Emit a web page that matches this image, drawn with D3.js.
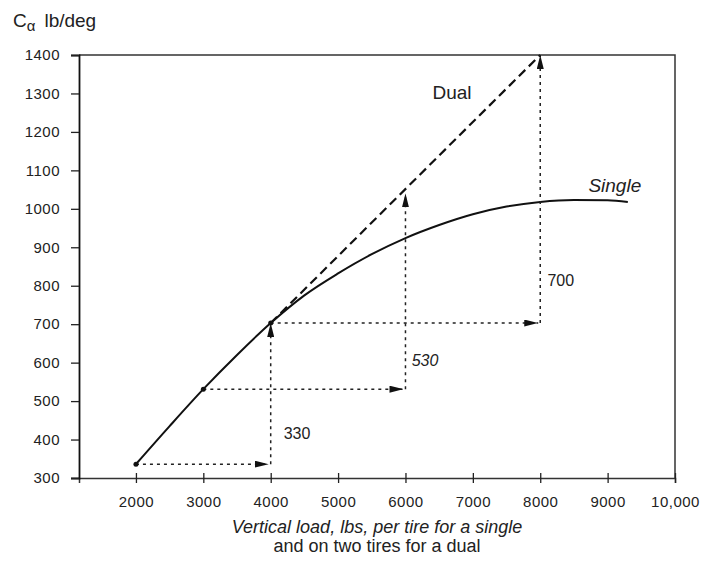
<!DOCTYPE html>
<html>
<head>
<meta charset="utf-8">
<script src="https://cdn.jsdelivr.net/npm/d3@7"></script>
<style>
  body { margin: 0; background: #fff; }
  svg { font-family: "Liberation Sans", Arial, sans-serif; }
  .tick text { font-size: 15px; letter-spacing: 0.5px; fill: #222; }
</style>
</head>
<body>
<svg width="701" height="562"></svg>
<script>
// single tire curve
const singleLoad = [2000, 2500, 3000, 3500, 4000, 4500, 5000, 5500, 6000, 6500, 7000, 7500, 8000, 8500, 9000, 9300]
const singleCa = [336, 435, 531, 620, 703, 775, 832, 882, 924, 958, 986, 1006, 1018, 1023, 1022, 1018]

// dual line (load on two tires)
const dualLoad = [4000, 8000]
const dualCa = [703, 1400]

// the step arrows: horizontal then vertical
const stepFromLoad = [2000, 3000, 4000]
const stepToLoad = [4000, 6000, 8000]
const stepFromCa = [336, 531, 703]
const stepToCa = [703, 1040, 1400]
const stepLabels = ['330', '530', '700']
const stepLabelLoad = [4390, 6290, 8305]
const stepLabelCa = [417, 607, 815]

const xTicks = [2000, 3000, 4000, 5000, 6000, 7000, 8000, 9000, 10000]
const yTicks = [300, 400, 500, 600, 700, 800, 900, 1000, 1100, 1200, 1300, 1400]

const svg = d3.select('svg')

const x = d3.scaleLinear().domain([1155, 10000]).range([79, 675])
const y = d3.scaleLinear().domain([300, 1400]).range([478, 55])

// arrowhead
svg.append('defs').append('marker')
  .attr('id', 'head')
  .attr('viewBox', '0 0 14 7')
  .attr('refX', 14).attr('refY', 3.5)
  .attr('markerWidth', 14).attr('markerHeight', 7)
  .attr('markerUnits', 'userSpaceOnUse')
  .attr('orient', 'auto')
  .append('path')
  .attr('d', 'M0,0 L14,3.5 L0,7 Z')
  .attr('fill', '#111')

// frame top and right
svg.append('path')
  .attr('d', `M${x(1155)},${y(1400)} H${x(10000)} V${y(300)}`)
  .attr('fill', 'none').attr('stroke', '#333').attr('stroke-width', 1.5)

const fmtX = d => d === 10000 ? '10,000' : String(d)

const xAxis = svg.append('g')
  .attr('transform', `translate(0,${y(300)})`)
  .call(d3.axisBottom(x).tickValues(xTicks).tickFormat(fmtX).tickSize(5).tickPadding(13))
xAxis.select('.domain').attr('stroke', '#333').attr('stroke-width', 1.5)
xAxis.selectAll('.tick line').attr('y1', -5).attr('stroke', '#222').attr('stroke-width', 1.3)

const yAxis = svg.append('g')
  .attr('transform', `translate(${x(1155)},0)`)
  .call(d3.axisLeft(y).tickValues(yTicks).tickFormat(d3.format('d')).tickSize(8).tickPadding(11))
yAxis.select('.domain').attr('stroke', '#111').attr('stroke-width', 1.8)
yAxis.selectAll('.tick line').attr('stroke', '#222').attr('stroke-width', 1.3)

// single curve
const pts = singleLoad.map((l, i) => [x(l), y(singleCa[i])])
svg.append('path')
  .attr('d', d3.line().curve(d3.curveMonotoneX)(pts))
  .attr('fill', 'none').attr('stroke', '#111').attr('stroke-width', 2)

// dual dashed line
svg.append('path')
  .attr('d', d3.line()(dualLoad.map((l, i) => [x(l), y(dualCa[i])])))
  .attr('fill', 'none').attr('stroke', '#111').attr('stroke-width', 2.2)
  .attr('stroke-dasharray', '9,5')

// step arrows
stepFromLoad.forEach((l, i) => {
  svg.append('line')
    .attr('x1', x(l)).attr('y1', y(stepFromCa[i]))
    .attr('x2', x(stepToLoad[i]) - 2).attr('y2', y(stepFromCa[i]))
    .attr('stroke', '#222').attr('stroke-width', 1.5)
    .attr('stroke-dasharray', '3,4')
    .attr('marker-end', 'url(#head)')
  svg.append('line')
    .attr('x1', x(stepToLoad[i])).attr('y1', y(stepFromCa[i]))
    .attr('x2', x(stepToLoad[i])).attr('y2', y(stepToCa[i]))
    .attr('stroke', '#222').attr('stroke-width', 1.5)
    .attr('stroke-dasharray', '3,4')
    .attr('marker-end', 'url(#head)')
  svg.append('text')
    .attr('x', x(stepLabelLoad[i])).attr('y', y(stepLabelCa[i]))
    .attr('text-anchor', 'middle').attr('dy', '0.35em')
    .attr('font-size', 16).attr('fill', '#222')
    .attr('font-style', i === 1 ? 'italic' : 'normal')
    .text(stepLabels[i])
})

// dots on the single curve
svg.selectAll('circle.pt').data(stepFromLoad).enter().append('circle')
  .attr('cx', d => x(d))
  .attr('cy', (d, i) => y(stepFromCa[i]))
  .attr('r', 2.5).attr('fill', '#111')

// curve labels
svg.append('text').attr('x', x(6690)).attr('y', y(1304)).attr('dy', '0.35em')
  .attr('text-anchor', 'middle').attr('font-size', 19).attr('fill', '#222').text('Dual')
svg.append('text').attr('x', x(9107)).attr('y', y(1062)).attr('dy', '0.35em')
  .attr('text-anchor', 'middle').attr('font-size', 19).attr('font-style', 'italic')
  .attr('fill', '#222').text('Single')

// y axis label
const yl = svg.append('text').attr('x', 13).attr('y', 27).attr('font-size', 19).attr('fill', '#222')
yl.append('tspan').text('C')
yl.append('tspan').attr('dy', 4).attr('font-size', 15).text('α')
yl.append('tspan').attr('dy', -4).attr('dx', 9).text('lb/deg')

// x axis title
svg.append('text').attr('x', 377).attr('y', 533).attr('text-anchor', 'middle')
  .attr('font-size', 18).attr('font-style', 'italic').attr('fill', '#222')
  .text('Vertical load, lbs, per tire for a single')
svg.append('text').attr('x', 377).attr('y', 552).attr('text-anchor', 'middle')
  .attr('font-size', 18).attr('fill', '#222')
  .text('and on two tires for a dual')
</script>
</body>
</html>
